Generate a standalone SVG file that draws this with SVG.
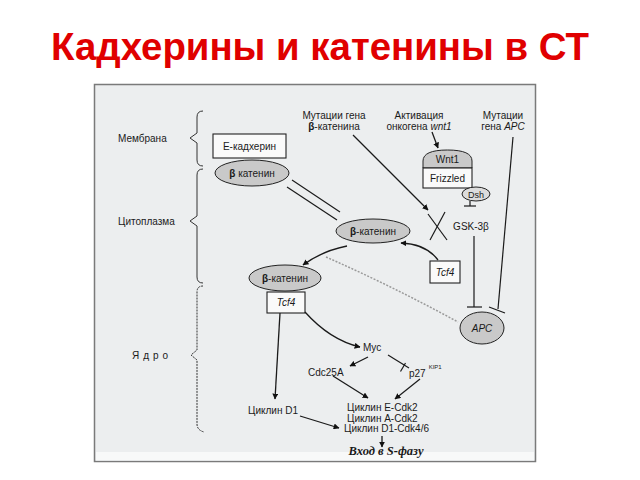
<svg xmlns="http://www.w3.org/2000/svg" width="640" height="480" viewBox="0 0 640 480">
<defs>
<marker id="ah" viewBox="0 0 10 10" refX="9" refY="5" markerWidth="6" markerHeight="6" orient="auto" markerUnits="userSpaceOnUse">
<path d="M0,0 L10,5 L0,10 Z" fill="#111"/>
</marker>
<style>
text{font-family:"Liberation Sans",Arial,sans-serif;font-size:10px;fill:#1a1a1a}
.c{text-anchor:middle}
.i{font-style:italic}
.b{font-weight:bold}
.ln{stroke:#1a1a1a;stroke-width:1.2;fill:none}
.ar{stroke:#1a1a1a;stroke-width:1.3;fill:none;marker-end:url(#ah)}
.brace{stroke:#333;stroke-width:1;fill:none}
.ell{fill:#c9c9c9;stroke:#222;stroke-width:1}
.box{fill:#fafafa;stroke:#222;stroke-width:1.1}
</style>
</defs>
<rect width="640" height="480" fill="#ffffff"/>
<text x="320" y="60" class="c b" style="font-size:38px;fill:#e00000" textLength="538" lengthAdjust="spacingAndGlyphs">Кадхерины и катенины в СТ</text>

<rect x="94.5" y="84.5" width="441" height="377" fill="#eceeef" stroke="#7a7a7a" stroke-width="1.5"/>
<rect x="96" y="452" width="438" height="8.5" fill="#f8f9f9"/>

<g id="labels">
<text x="118" y="141.5">Мембрана</text>
<text x="118" y="224.5">Цитоплазма</text>
<text x="132" y="358.5" style="letter-spacing:4px">Ядро</text>
</g>
<g id="braces">
<path class="brace" d="M203,111 Q197,111 197,117 L197,133 L190,138 L197,143 L197,160 Q197,166 203,166"/>
<path class="brace" d="M203,169 Q197,169 197,175 L197,216 L190,221 L197,226 L197,277 Q197,283 203,283"/>
<path class="brace" d="M203,286 Q197,286 197,292 L197,350 L191,355 L197,360 L197,424 Q197,430 204,432" stroke-dasharray="2,1"/>
</g>

<g id="hdr-bcat"><text x="334" y="118.5" class="c">Мутации гена</text><text x="334" y="129.5" class="c"><tspan class="b">β</tspan>-катенина</text></g>
<g id="hdr-wnt"><text x="419" y="118.5" class="c">Активация</text><text x="419" y="129.5" class="c">онкогена <tspan class="i">wnt1</tspan></text></g>
<g id="hdr-apc"><text x="503" y="118.5" class="c">Мутации</text><text x="503" y="129.5" class="c">гена <tspan class="i">APC</tspan></text></g>

<g id="ecad"><rect class="box" x="213" y="134" width="73" height="24"/><text x="249.5" y="150" class="c">Е-кадхерин</text></g>
<g id="bcat-mem"><ellipse class="ell" cx="252" cy="173" rx="37" ry="13"/><text x="252" y="177" class="c"><tspan class="b">β</tspan> катенин</text></g>
<g id="bcat-cyto"><ellipse class="ell" cx="373" cy="231" rx="37" ry="12"/><text x="373" y="235" class="c"><tspan class="b">β</tspan>-катенин</text></g>
<g id="bcat-nuc"><ellipse class="ell" cx="285" cy="278" rx="36" ry="13"/><text x="285" y="282" class="c"><tspan class="b">β</tspan>-катенин</text></g>
<g id="tcf4-nuc"><rect class="box" x="267" y="292" width="38" height="21"/><text x="286" y="306" class="c i">Tcf4</text></g>
<g id="tcf4-cyto"><rect class="box" x="430" y="261" width="30" height="22"/><text x="445" y="276" class="c i">Tcf4</text></g>
<g id="wnt1"><path class="ell" d="M423,168 L423,161 Q423,150 447.5,150 Q472,150 472,161 L472,168 Z"/><text x="447.5" y="163" class="c">Wnt1</text></g>
<g id="frizzled"><rect class="box" x="423" y="168" width="49" height="20"/><text x="447.5" y="182" class="c">Frizzled</text></g>
<g id="dsh"><ellipse cx="476" cy="194" rx="14" ry="7" fill="#dcdcdc" stroke="#222" stroke-width="1"/><text x="476" y="197.5" class="c" style="font-size:9px">Dsh</text></g>
<g id="gsk"><text x="471" y="230" class="c">GSK-3β</text></g>
<g id="apc"><ellipse class="ell" cx="482" cy="328" rx="22" ry="16"/><text x="482" y="332" class="c i">APC</text></g>
<g id="myc"><text x="363" y="350.5">Myc</text></g>
<g id="cdc25a"><text x="308" y="375.5">Cdc25A</text></g>
<g id="p27"><text x="409" y="376.5">p27<tspan dx="3" dy="-8" style="font-size:6px">KIP1</tspan></text></g>
<g id="cycd1"><text x="248" y="413.5">Циклин D1</text></g>
<g id="cyc-complex">
<text x="347" y="411">Циклин E-Cdk2</text>
<text x="347" y="421.5">Циклин A-Cdk2</text>
<text x="344" y="432">Циклин D1-Cdk4/6</text>
</g>
<g id="sphase"><text x="386" y="455" class="c i b" style="font-family:'Liberation Serif','Times New Roman',serif;font-size:12.5px">Вход в S-фазу</text></g>

<g id="connectors">
<line class="ln" x1="292" y1="180" x2="340" y2="212"/>
<line class="ln" x1="287" y1="187" x2="337" y2="220"/>
<line class="ar" x1="353" y1="135" x2="428" y2="210"/>
<line class="ar" x1="432" y1="132" x2="438" y2="148"/>
<line class="ln" x1="428" y1="214" x2="447" y2="240" stroke-width="1.4"/>
<line class="ln" x1="445" y1="212" x2="430" y2="240" stroke-width="1.4"/>
<line class="ln" x1="470" y1="201" x2="470" y2="206" stroke-width="1.5"/>
<line class="ln" x1="464" y1="206" x2="476" y2="206" stroke-width="1.5"/>
<line class="ln" x1="474" y1="236" x2="474" y2="307" stroke-width="1.5"/>
<line class="ln" x1="467" y1="307" x2="482" y2="307" stroke-width="1.5"/>
<line class="ln" x1="513" y1="137" x2="498" y2="309" stroke-width="1.5"/>
<line class="ln" x1="489" y1="307" x2="505" y2="313" stroke-width="1.5"/>
<path class="ar" d="M438,260 Q426,244 401,243"/>
<path class="ar" d="M347,246 Q322,251 303,265" stroke-width="1.8"/>
<path d="M326,257 Q392,286 458,322" stroke="#9a9a9a" stroke-width="1.5" stroke-dasharray="2,1.5" fill="none"/>
<line class="ar" x1="280" y1="313" x2="275" y2="399" stroke-width="1.8"/>
<path class="ar" d="M305,312 Q330,340 360,347"/>
<line class="ar" x1="368" y1="357" x2="350" y2="366"/>
<line class="ln" x1="388" y1="355" x2="409" y2="368"/>
<line class="ln" x1="400.5" y1="371.5" x2="405.5" y2="363"/>
<line class="ar" x1="333" y1="376" x2="368" y2="398"/>
<line class="ar" x1="420" y1="379" x2="395" y2="399"/>
<line class="ar" x1="300" y1="416" x2="339" y2="428"/>
<line class="ar" x1="382" y1="436" x2="382" y2="447"/>
</g>
</svg>
